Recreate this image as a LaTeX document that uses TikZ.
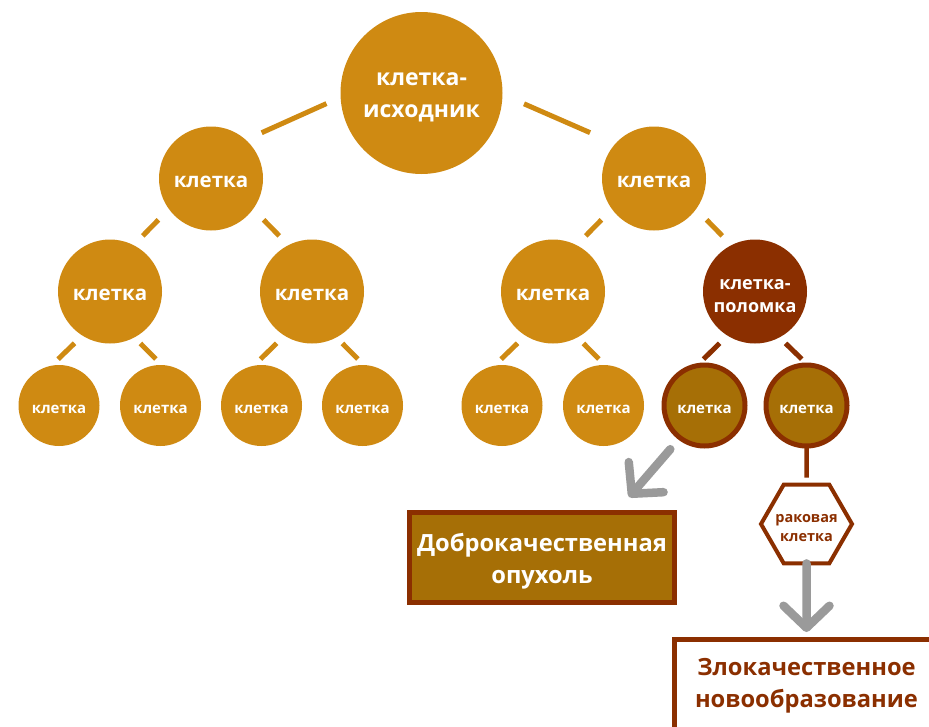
\documentclass[tikz,border=0pt]{standalone}
\usepackage{fontspec}
\setmainfont{Open Sans}
\usetikzlibrary{shapes.geometric,arrows.meta}

\definecolor{gold}{HTML}{CF8A12}
\definecolor{rust}{HTML}{8B2F00}
\definecolor{ochre}{HTML}{A66F06}
\definecolor{arrowgrey}{HTML}{9A9A9A}

% invisible strut that pushes a text block a little down in its node
\newcommand\lift[1]{\rule{0pt}{#1}}

\begin{document}
\begin{tikzpicture}[x=1pt, y=-1pt,
  cell/.style={circle, fill=gold, text=white, inner sep=0pt, outer sep=0pt, align=center,
    minimum size=104pt, font=\bfseries\fontsize{20.5}{25}\selectfont},
  small/.style={cell, minimum size=81pt, font=\bfseries\fontsize{15}{18}\selectfont},
  broken/.style={small, fill=ochre, draw=rust, line width=5pt},
  link/.style={draw=gold, line width=5pt},
  brlink/.style={link, draw=rust},
  grarrow/.style={draw=arrowgrey, line width=8.5pt, line cap=round,
    -{Straight Barb[length=22pt, width=46pt, round]}},
  box/.style={rectangle, draw=rust, line width=5pt, outer sep=0pt, align=center,
    font=\bfseries\fontsize{23.7}{32}\selectfont}
]
\clip (0,0) rectangle (929,726);

% the tree of cells
\node[cell, minimum size=162pt, font=\bfseries\fontsize{23}{32}\selectfont] (root) at (421.5,93) {\lift{20.5pt}клетка-\\исходник};
\node[cell] (l1a) at (211,178.5) {\lift{18pt}клетка};
\node[cell] (l1b) at (654,178.5) {\lift{18pt}клетка};
\node[cell] (l2a) at (110,291.5) {\lift{18pt}клетка};
\node[cell] (l2b) at (312,291.5) {\lift{18pt}клетка};
\node[cell] (l2c) at (553,291.5) {\lift{18pt}клетка};
\node[cell, fill=rust, font=\bfseries\fontsize{18}{23}\selectfont] (l2d) at (755,291.5) {\lift{19.5pt}клетка-\\поломка};
\node[small] (l3a) at (59,405.5) {\lift{16pt}клетка};
\node[small] (l3b) at (160.5,405.5) {\lift{16pt}клетка};
\node[small] (l3c) at (261.5,405.5) {\lift{16pt}клетка};
\node[small] (l3d) at (362.5,405.5) {\lift{16pt}клетка};
\node[small] (l3e) at (502,405.5) {\lift{16pt}клетка};
\node[small] (l3f) at (603.5,405.5) {\lift{16pt}клетка};
\node[broken] (l3g) at (704.5,405.5) {\lift{16pt}клетка};
\node[broken] (l3h) at (806.5,405.5) {\lift{16pt}клетка};

\draw[link, shorten <=15.5pt, shorten >=17.4pt] (root.183) -- (l1a.48);
\draw[link, shorten <=23.5pt, shorten >=27.6pt] (root.359) -- (l1b.138);
\foreach \p/\a/\b in {l1a/l2a/l2b, l1b/l2c/l2d}
{
	\draw[link, shorten <=15pt, shorten >=13pt] (\p.216) -- (\a.63);
	\draw[link, shorten <=15pt, shorten >=13pt] (\p.324) -- (\b.117);
}
\foreach \p/\a/\b in {l2a/l3a/l3b, l2b/l3c/l3d, l2c/l3e/l3f}
{
	\draw[link, shorten <=11pt, shorten >=9.5pt] (\p.238) -- (\a.101);
	\draw[link, shorten <=8.5pt, shorten >=8.5pt] (\p.298) -- (\b.88);
}
\draw[brlink, shorten <=11pt, shorten >=9.5pt] (l2d.238) -- (l3g.101);
\draw[brlink, shorten <=8.5pt, shorten >=8.5pt] (l2d.298) -- (l3h.88);

% what comes out of the broken cell
\node[regular polygon, regular polygon sides=6, draw=rust, line width=4pt, fill=white, text=rust,
  inner sep=-8pt, outer sep=0pt, minimum size=91pt, align=center,
  font=\bfseries\fontsize{14.5}{19}\selectfont] (hex) at (806.5,524) {\lift{16pt}раковая\\клетка};
\node[box, fill=ochre, text=white, minimum width=265pt, minimum height=90pt] (benign) at (542,557.5) {\lift{26pt}Доброкачественная\\опухоль};
\node[box, fill=white, text=rust, anchor=north, minimum width=264pt, inner ysep=19pt, text depth=30pt] (malig) at (806.5,639) {Злокачественное\\новообразование};

\draw[brlink, line width=4.5pt, shorten >=7pt] (l3h.south) -- (hex.north);
\coordinate (tipb) at (629,497);
\draw[grarrow, shorten <=15pt] (l3g.233) -- (tipb);
\draw[grarrow, shorten >=7pt] (hex.south) -- (malig.north);
\end{tikzpicture}
\end{document}
